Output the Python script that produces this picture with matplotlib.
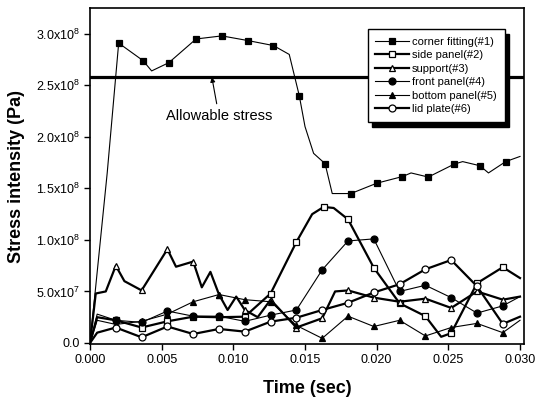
import numpy as np
import matplotlib
matplotlib.use("Agg")
import matplotlib.pyplot as plt

plt.rcParams['font.family'] = ['Liberation Sans', 'DejaVu Sans']
plt.rcParams['mathtext.fontset'] = 'custom'
plt.rcParams['mathtext.rm'] = 'Liberation Sans'

# values in units of 1e8 Pa, time in sec
corner_t = [0, 0.0012, 0.0020, 0.0037, 0.0043, 0.0055, 0.0074, 0.0092, 0.0110, 0.0128,
            0.0139, 0.0146, 0.0150, 0.0156, 0.0164, 0.0169, 0.0182, 0.0200, 0.0218, 0.0224,
            0.0236, 0.0254, 0.0260, 0.0272, 0.0278, 0.0290, 0.0300]
corner_v = [0.0, 1.65, 2.91, 2.74, 2.64, 2.72, 2.95, 2.98, 2.935, 2.886,
            2.80, 2.40, 2.10, 1.84, 1.74, 1.45, 1.45, 1.55, 1.615, 1.65,
            1.61, 1.735, 1.76, 1.72, 1.65, 1.76, 1.81]
corner_mk = [2, 3, 5, 6, 7, 8, 9, 11, 14, 16, 17, 18, 20, 21, 23, 25]

side_t = [0, 0.0005, 0.0018, 0.0036, 0.0054, 0.0072, 0.0090, 0.0108, 0.0126, 0.0144,
          0.0155, 0.0163, 0.0170, 0.0180, 0.0198, 0.0216, 0.0234, 0.0245, 0.0252, 0.0270,
          0.0288, 0.0300]
side_v = [0.0, 0.25, 0.22, 0.15, 0.21, 0.255, 0.25, 0.255, 0.48, 0.98,
          1.25, 1.32, 1.31, 1.20, 0.73, 0.385, 0.26, 0.06, 0.095, 0.58,
          0.735, 0.63]
side_mk = [2, 3, 4, 5, 6, 7, 8, 9, 11, 13, 14, 15, 16, 18, 19, 20]

support_t = [0, 0.0004, 0.0011, 0.0018, 0.0024, 0.0036, 0.0054, 0.0060, 0.0072, 0.0078,
             0.0084, 0.0090, 0.0096, 0.0102, 0.0108, 0.0117, 0.0126, 0.0144, 0.0162, 0.0171,
             0.0180, 0.0198, 0.0216, 0.0234, 0.0252, 0.0270, 0.0288, 0.0300]
support_v = [0.0, 0.48, 0.50, 0.75, 0.60, 0.51, 0.91, 0.74, 0.79, 0.54,
             0.69, 0.47, 0.32, 0.45, 0.32, 0.25, 0.42, 0.15, 0.24, 0.50,
             0.51, 0.44, 0.40, 0.43, 0.34, 0.50, 0.42, 0.45]
support_mk = [3, 5, 6, 8, 11, 14, 16, 17, 18, 20, 21, 22, 23, 24, 25, 26]

front_t = [0, 0.0005, 0.0018, 0.0036, 0.0054, 0.0072, 0.0090, 0.0108, 0.0126, 0.0144,
           0.0162, 0.0180, 0.0198, 0.0216, 0.0234, 0.0252, 0.0270, 0.0288, 0.0300]
front_v = [0.0, 0.28, 0.22, 0.20, 0.31, 0.26, 0.26, 0.21, 0.27, 0.32,
           0.71, 0.99, 1.01, 0.50, 0.56, 0.44, 0.29, 0.36, 0.45]
front_mk = list(range(2, 18))

bottom_t = [0, 0.0005, 0.0018, 0.0036, 0.0054, 0.0072, 0.0090, 0.0108, 0.0126, 0.0144,
            0.0162, 0.0180, 0.0198, 0.0216, 0.0234, 0.0252, 0.0270, 0.0288, 0.0300]
bottom_v = [0.0, 0.22, 0.18, 0.21, 0.28, 0.40, 0.47, 0.42, 0.40, 0.17,
            0.045, 0.26, 0.16, 0.22, 0.068, 0.15, 0.19, 0.10, 0.22]
bottom_mk = list(range(2, 18))

lid_t = [0, 0.0005, 0.0018, 0.0036, 0.0054, 0.0072, 0.0090, 0.0108, 0.0126, 0.0144,
         0.0162, 0.0180, 0.0198, 0.0216, 0.0234, 0.0252, 0.0270, 0.0288, 0.0300]
lid_v = [0.0, 0.10, 0.15, 0.055, 0.16, 0.087, 0.136, 0.11, 0.207, 0.245,
         0.32, 0.39, 0.49, 0.57, 0.715, 0.805, 0.55, 0.185, 0.255]
lid_mk = list(range(2, 18))

allowable = 2.58

x_ticks = [0.000, 0.005, 0.010, 0.015, 0.020, 0.025, 0.030]
y_ticks = [0.0, 0.5, 1.0, 1.5, 2.0, 2.5, 3.0]
y_tick_labels = ['0.0', r'5.0x10$^7$', r'1.0x10$^8$', r'1.5x10$^8$',
                 r'2.0x10$^8$', r'2.5x10$^8$', r'3.0x10$^8$']

fig = plt.figure(figsize=(5.38, 4.03), dpi=100)
ax = fig.add_axes([0.1673, 0.1464, 0.8067, 0.8336])

ax.axhline(allowable * 1e8, color='black', lw=2.3, zorder=1)

series = [
    (corner_t, corner_v, corner_mk, 's', 'black', 0.8, 'corner fitting(#1)'),
    (side_t, side_v, side_mk, 's', 'white', 1.6, 'side panel(#2)'),
    (support_t, support_v, support_mk, '^', 'white', 1.6, 'support(#3)'),
    (front_t, front_v, front_mk, 'o', 'black', 0.8, 'front panel(#4)'),
    (bottom_t, bottom_v, bottom_mk, '^', 'black', 0.8, 'bottom panel(#5)'),
    (lid_t, lid_v, lid_mk, 'o', 'white', 1.6, 'lid plate(#6)'),
]
for t, v, mk, m, fc, lw, name in series:
    ax.plot(t, np.array(v) * 1e8, color='black', lw=lw, marker=m, markevery=mk,
            markersize=5, markerfacecolor=fc, markeredgecolor='black',
            markeredgewidth=0.9, label=name, zorder=3)

ax.annotate('Allowable stress', xy=(0.0085, allowable * 1e8),
            xytext=(0.0090, 2.20e8), ha='center', va='center', fontsize=10.5,
            arrowprops=dict(arrowstyle='-|>', color='black', lw=0.8,
                            mutation_scale=7, shrinkA=2, shrinkB=0))

ax.set_xlim(0, 0.03028)
ax.set_ylim(-0.01e8, 3.25e8)
ax.set_xticks(x_ticks)
ax.set_xticklabels(['%.3f' % x for x in x_ticks])
ax.set_yticks([y * 1e8 for y in y_ticks])
ax.set_yticklabels(y_tick_labels)
ax.tick_params(direction='out', length=4, width=1, labelsize=9, pad=3)
for sp in ax.spines.values():
    sp.set_linewidth(1.2)

ax.set_xlabel('Time (sec)', fontsize=13, fontweight='bold', labelpad=10)
ax.set_ylabel('Stress intensity (Pa)', fontsize=13, fontweight='bold', labelpad=8)

leg = ax.legend(loc='upper right', bbox_to_anchor=(0.968, 0.955), fontsize=8,
                handlelength=3.0, labelspacing=0.32, borderpad=0.7,
                handletextpad=0.3, fancybox=False, framealpha=1,
                edgecolor='black',
                shadow={'ox': 3.5, 'oy': -3.5, 'color': 'black', 'alpha': 1})
leg.get_frame().set_linewidth(1.0)
leg.set_zorder(5)

fig.savefig('out.png', dpi=100)
